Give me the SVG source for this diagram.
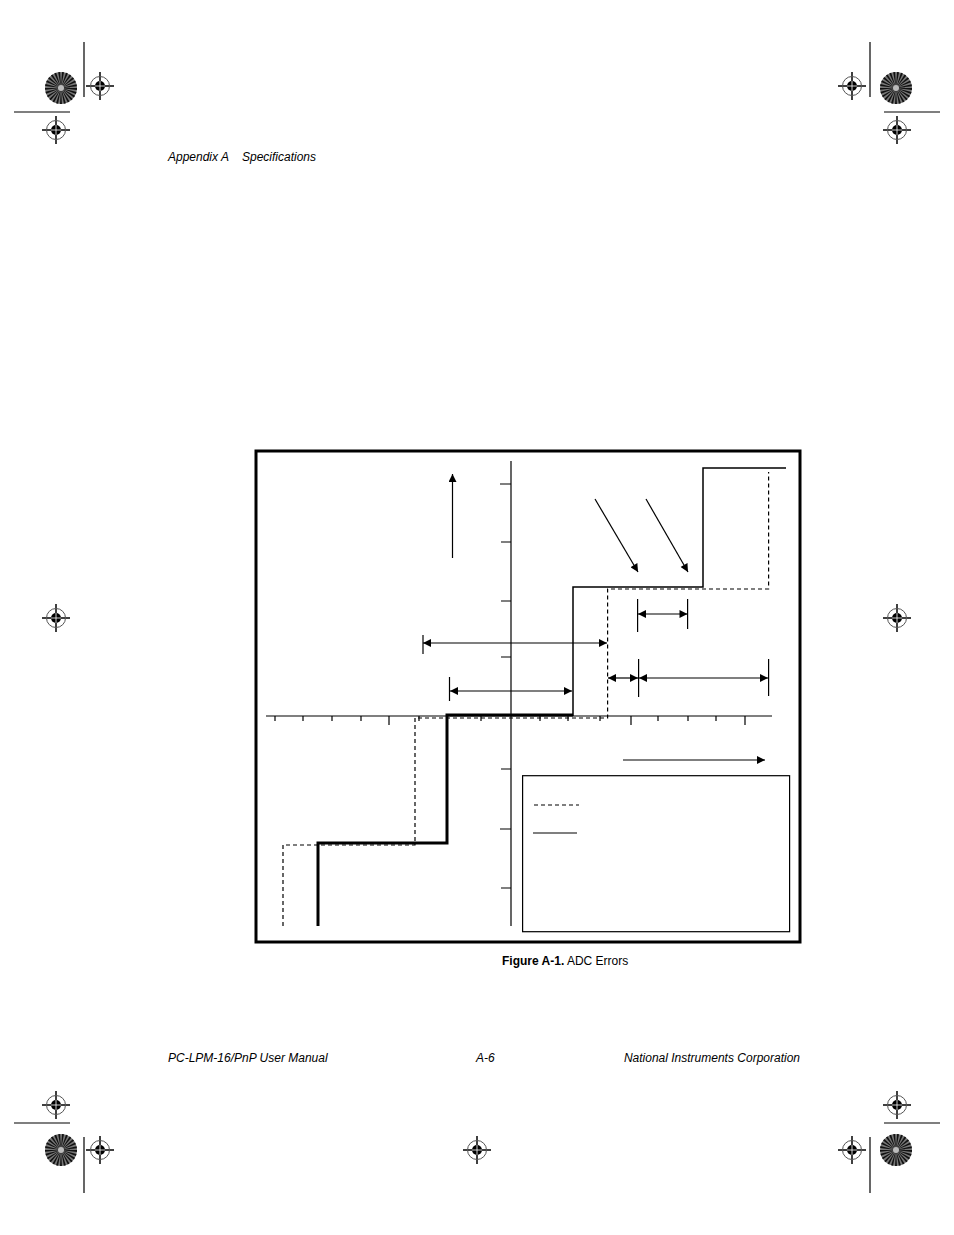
<svg xmlns="http://www.w3.org/2000/svg" xmlns:xlink="http://www.w3.org/1999/xlink" width="954" height="1235" viewBox="0 0 954 1235">
<style>
.t{font-family:"Liberation Sans",Arial,sans-serif;font-size:12px;fill:#000}
.i{font-style:italic}
.l{stroke:#000;fill:none;stroke-width:1.2}
.d{stroke:#000;fill:none;stroke-width:1.2;stroke-dasharray:4 3}
.k{stroke:#000;fill:none;stroke-width:1.5}
</style>
<defs>
<marker id="a" viewBox="0 0 10 10" refX="10" refY="5" markerWidth="10" markerHeight="8" markerUnits="userSpaceOnUse" orient="auto-start-reverse"><path d="M0,0L10,5L0,10z" fill="#000"/></marker>
<g id="reg"><line x1="-14" y1="0" x2="14" y2="0" stroke="#000" stroke-width="1.5"/><line x1="0" y1="-14" x2="0" y2="14" stroke="#000" stroke-width="1.5"/><circle r="9.5" fill="none" stroke="#555" stroke-width="1"/><circle r="5" fill="#000"/><line x1="-5" y1="0" x2="5" y2="0" stroke="#fff" stroke-width="0.8"/><line x1="0" y1="-5" x2="0" y2="5" stroke="#fff" stroke-width="0.8"/></g>
<g id="star"><circle r="16" fill="#777"/><circle r="8" fill="none" stroke="#111" stroke-width="16" stroke-dasharray="1 1"/><circle r="3" fill="#bbb"/></g>
</defs>
<rect width="954" height="1235" fill="#fff"/>
<g id="marks">
<use href="#star" x="61" y="88"/><use href="#star" x="896" y="88"/><use href="#star" x="61" y="1150"/><use href="#star" x="896" y="1150"/>
<use href="#reg" x="100" y="86"/><use href="#reg" x="56" y="130"/><use href="#reg" x="852" y="86"/><use href="#reg" x="897" y="130"/>
<use href="#reg" x="56" y="618"/><use href="#reg" x="897" y="618"/>
<use href="#reg" x="56" y="1105"/><use href="#reg" x="100" y="1150"/><use href="#reg" x="477" y="1150"/><use href="#reg" x="852" y="1150"/><use href="#reg" x="897" y="1105"/>
<g stroke="#000" stroke-width="1.2"><line x1="84" y1="42" x2="84" y2="97"/><line x1="14" y1="112" x2="70" y2="112"/><line x1="870" y1="42" x2="870" y2="97"/><line x1="884" y1="112" x2="940" y2="112"/><line x1="14" y1="1123" x2="70" y2="1123"/><line x1="884" y1="1123" x2="940" y2="1123"/><line x1="84" y1="1137" x2="84" y2="1193"/><line x1="870" y1="1137" x2="870" y2="1193"/></g>
</g>
<g id="header"><text class="t i" x="168" y="161">Appendix A<tspan x="242">Specifications</tspan></text></g>
<g id="frame"><rect x="256" y="451" width="544" height="491" fill="none" stroke="#000" stroke-width="3"/></g>
<g id="axes" class="l">
<line x1="511" y1="461" x2="511" y2="926"/>
<line x1="266" y1="716" x2="772" y2="716"/>
<path d="M500,484H511M501,542H511M501,601H511M501,657H511M501,769H511M500,829H511M501,888H511"/>
<path d="M275,716V721M303,716V721M332,716V721M361,716V721M389,716V725M419,716V721M481,716V721M540,716V721M568,716V721M600,716V721M631,716V725M658,716V721M688,716V721M716,716V721M745,716V725"/>
</g>
<g id="steps">
<path d="M318,926V843H447V715H573" stroke="#000" stroke-width="3" fill="none"/>
<path d="M573,716V587H703V468H786" class="k"/>
<path d="M283,926V845H415V718H607.6V589H768.6V472" class="d"/>
</g>
<g id="connectors" class="l">
<line x1="452.5" y1="558" x2="452.5" y2="474" marker-end="url(#a)"/>
<line x1="595" y1="499" x2="638" y2="572" marker-end="url(#a)"/>
<line x1="646" y1="499" x2="688" y2="572" marker-end="url(#a)"/>
<line x1="423" y1="643" x2="607" y2="643" marker-start="url(#a)" marker-end="url(#a)"/>
<line x1="423" y1="635" x2="423" y2="654"/>
<line x1="450" y1="691" x2="572" y2="691" marker-start="url(#a)" marker-end="url(#a)"/>
<line x1="449.5" y1="677" x2="449.5" y2="701"/>
<line x1="638" y1="614" x2="687.5" y2="614" marker-start="url(#a)" marker-end="url(#a)"/>
<line x1="637.6" y1="599" x2="637.6" y2="632"/><line x1="687.6" y1="599" x2="687.6" y2="629"/>
<line x1="608" y1="678" x2="638" y2="678" marker-start="url(#a)" marker-end="url(#a)"/>
<line x1="639" y1="678" x2="768" y2="678" marker-start="url(#a)" marker-end="url(#a)"/>
<line x1="638.6" y1="659" x2="638.6" y2="697"/><line x1="768.6" y1="659" x2="768.6" y2="696"/>
<line x1="623" y1="760" x2="765" y2="760" marker-end="url(#a)"/>
</g>
<g id="legend">
<rect x="522.6" y="775.7" width="267" height="156" fill="none" stroke="#000" stroke-width="1.2"/>
<line x1="534" y1="805" x2="579" y2="805" class="d"/>
<line x1="533" y1="833" x2="577" y2="833" class="l"/>
</g>
<g id="caption"><text class="t" x="502" y="965"><tspan font-weight="bold">Figure A-1.</tspan>  ADC Errors</text></g>
<g id="footer">
<text class="t i" x="168" y="1062">PC-LPM-16/PnP User Manual</text>
<text class="t i" x="476" y="1062">A-6</text>
<text class="t i" x="800" y="1062" text-anchor="end">National Instruments Corporation</text>
</g>
</svg>
